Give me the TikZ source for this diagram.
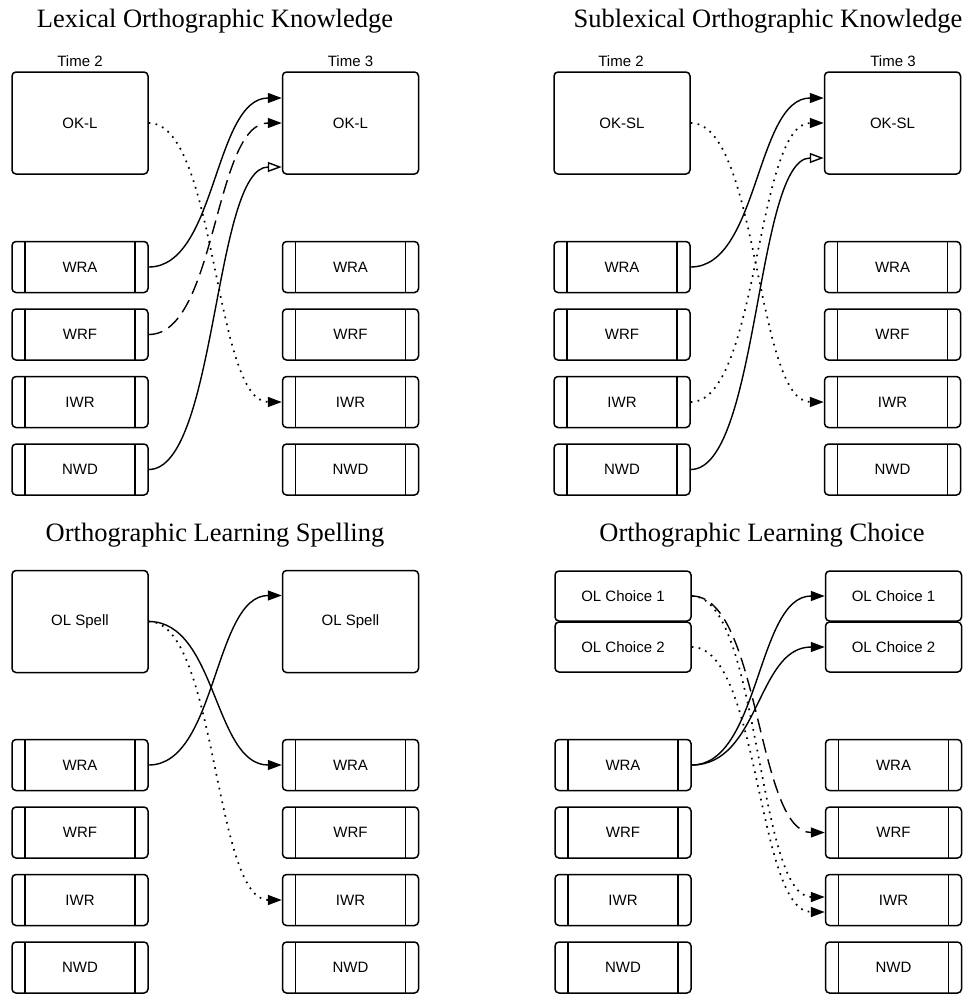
\documentclass[tikz,border=0pt]{standalone}
\usepackage{fontspec}
\setmainfont{Liberation Serif}
\setsansfont{Liberation Sans}
\usetikzlibrary{arrows.meta}

\begin{document}
\begin{tikzpicture}[x=1pt, y=-1pt,
    lab/.style={font=\sffamily\fontsize{15}{18}\selectfont},
    ttl/.style={font=\fontsize{26.5}{30}\selectfont, anchor=base},
    big/.style={draw, line width=1.5pt, rounded corners=4pt, inner sep=0pt, minimum width=136pt, minimum height=102pt, lab},
    sml/.style={big, minimum height=50pt},
    var/.style={big, minimum height=51pt, path picture={
        \draw[line width=1.5pt] ([xshift=13pt]path picture bounding box.north west) -- ([xshift=13pt]path picture bounding box.south west)
            ([xshift=-13pt]path picture bounding box.north east) -- ([xshift=-13pt]path picture bounding box.south east);}},
    arr/.style={line width=1.4pt, -{Triangle[length=14pt,width=10pt]}},
    oarr/.style={line width=1.4pt, -{Triangle[open,length=14pt,width=10pt]}},
    dashline/.style={dash pattern=on 14pt off 7pt},
    dotline/.style={line width=1.7pt, dash pattern=on 1.7pt off 5.3pt},
    every to/.style={out=0, in=180, max distance=68pt}]
\useasboundingbox (0,0) rectangle (967,994);
% titles
\node[ttl] (t0) at (215,27) {Lexical Orthographic Knowledge};
\node[ttl] (t1) at (768,27) {Sublexical Orthographic Knowledge};
\node[ttl] (t2) at (215,541) {Orthographic Learning Spelling};
\node[ttl] (t3) at (762,541) {Orthographic Learning Choice};
\node[lab, anchor=base] (tm20) at (80,66.5) {Time 2};
\node[lab, anchor=base] (tm30) at (350.5,66.5) {Time 3};
\node[lab, anchor=base] (tm21) at (621,66.5) {Time 2};
\node[lab, anchor=base] (tm31) at (893,66.5) {Time 3};
% reading measures, same in every panel
\foreach \p/\dx/\dy in {0/0/0, 1/542/0, 2/0/498, 3/543/498} {
    \begin{scope}[xshift=\dx pt, yshift=-\dy pt]
        \foreach \v/\lab/\y in {wra/WRA/267, wrf/WRF/334.5, iwr/IWR/402, nwd/NWD/469.5} {
            \node[var] (\v2\p) at (80,\y) {\lab};
            \node[var] (\v3\p) at (350.5,\y) {\lab};
        }
    \end{scope}
}
% orthographic boxes
\node[big] (ok20) at (80,123) {OK-L};
\node[big] (ok30) at (350.5,123) {OK-L};
\node[big] (ok21) at (622,123) {OK-SL};
\node[big] (ok31) at (892.5,123) {OK-SL};
\node[big] (ol22) at (80,621.5) {OL Spell};
\node[big] (ol32) at (350.5,621.5) {OL Spell};
\node[sml] (cha23) at (623,596) {OL Choice 1};
\node[sml] (chb23) at (623,647) {OL Choice 2};
\node[sml] (cha33) at (893.5,596) {OL Choice 1};
\node[sml] (chb33) at (893.5,647) {OL Choice 2};
% (a) lexical
\draw[arr] (wra20.east) to ([yshift=25pt]ok30.west);
\draw[arr, dashline] (wrf20.east) to (ok30.west);
\draw[oarr] (nwd20.east) to ([yshift=-44pt]ok30.west);
\draw[arr, dotline] (ok20.east) to (iwr30.west);
% (b) sublexical
\draw[arr] (wra21.east) to ([yshift=25pt]ok31.west);
\draw[arr, dotline] (iwr21.east) to (ok31.west);
\draw[oarr] (nwd21.east) to ([yshift=-35pt]ok31.west);
\draw[arr, dotline] (ok21.east) to (iwr31.west);
% (c) spelling
\draw[arr] (ol22.east) to (wra32.west);
\draw[arr, dotline] (ol22.east) to (iwr32.west);
\draw[arr] (wra22.east) to ([yshift=26pt]ol32.west);
% (d) choice
\draw[arr] (wra23.east) to (cha33.west);
\draw[arr] (wra23.east) to (chb33.west);
\draw[arr, dashline] (cha23.east) to (wrf33.west);
\draw[arr, dotline] (cha23.east) to ([yshift=3pt]iwr33.west);
\draw[arr, dotline] (chb23.east) to ([yshift=-12pt]iwr33.west);
\end{tikzpicture}
\end{document}
